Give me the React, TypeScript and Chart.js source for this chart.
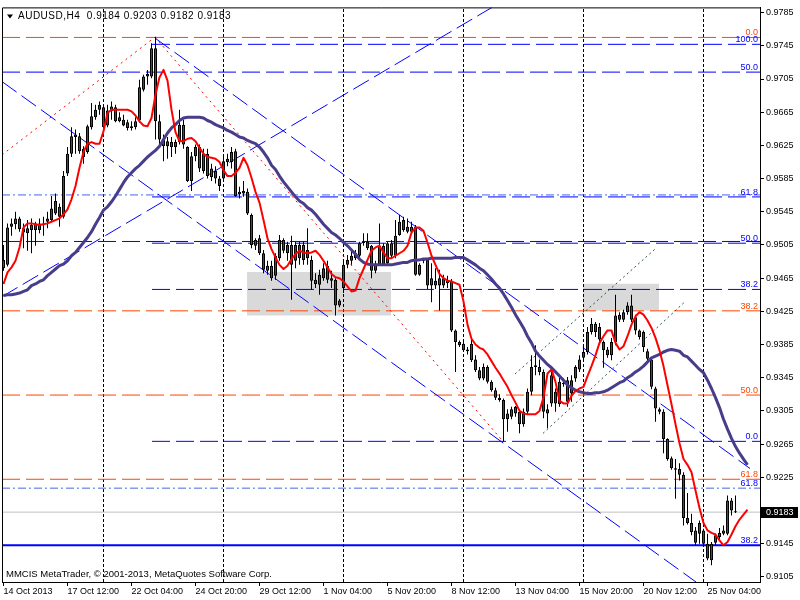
import React, { useEffect, useRef } from "react";
import { Chart, registerables } from "chart.js";

Chart.register(...registerables);

const FONT = '"Liberation Sans", Arial, sans-serif';

// ---- H4 candles (bar 0 = 14 Oct 2013 20:00) ----
const OPEN = [
  0.9477,0.9481,0.9527,0.9530,0.9537,0.9525,0.9519,0.9523,0.9531,0.9523,
  0.9529,0.9533,0.9535,0.9543,0.9551,0.9539,0.9591,0.9615,0.9635,0.9636,
  0.9621,0.9617,0.9647,0.9659,0.9668,0.9671,0.9649,0.9666,0.9671,0.9659,
  0.9656,0.9653,0.9646,0.9647,0.9655,0.9692,0.9708,0.9708,0.9742,0.9654,
  0.9624,0.9630,0.9629,0.9629,0.9629,0.9650,0.9623,0.9582,0.9612,0.9623,
  0.9615,0.9615,0.9587,0.9594,0.9576,0.9585,0.9605,0.9605,0.9618,0.9569,
  0.9567,0.9569,0.9541,0.9511,0.9513,0.9495,0.9480,0.9480,0.9468,0.9489,
  0.9511,0.9495,0.9505,0.9486,0.9505,0.9487,0.9499,0.9487,0.9463,0.9457,
  0.9465,0.9480,0.9465,0.9463,0.9432,0.9453,0.9481,0.9486,0.9489,0.9492,
  0.9507,0.9509,0.9504,0.9474,0.9481,0.9504,0.9483,0.9507,0.9492,0.9517,
  0.9523,0.9527,0.9521,0.9527,0.9469,0.9487,0.9487,0.9465,0.9462,0.9456,
  0.9456,0.9463,0.9462,0.9402,0.9384,0.9386,0.9379,0.9386,0.9367,0.9354,
  0.9344,0.9358,0.9340,0.9330,0.9321,0.9318,0.9295,0.9298,0.9302,0.9304,
  0.9289,0.9304,0.9328,0.9358,0.9352,0.9352,0.9307,0.9314,0.9328,0.9313,
  0.9337,0.9342,0.9326,0.9344,0.9355,0.9369,0.9376,0.9400,0.9410,0.9406,
  0.9388,0.9379,0.9372,0.9388,0.9421,0.9415,0.9424,0.9432,0.9418,0.9402,
  0.9400,0.9377,0.9367,0.9332,0.9307,0.9304,0.9271,0.9248,0.9236,0.9235,
  0.9228,0.9176,0.9170,0.9161,0.9157,0.9161,0.9145,0.9125,0.9146,0.9153,
  0.9157,0.9157,0.9197,0.9184,
];
const HIGH = [
  0.9505,0.9531,0.9537,0.9545,0.9539,0.9531,0.9535,0.9537,0.9533,0.9537,
  0.9539,0.9545,0.9564,0.9567,0.9555,0.9594,0.9623,0.9647,0.9644,0.9640,
  0.9624,0.9650,0.9676,0.9674,0.9678,0.9673,0.9674,0.9678,0.9674,0.9665,
  0.9662,0.9656,0.9654,0.9659,0.9704,0.9710,0.9716,0.9748,0.9756,0.9662,
  0.9638,0.9635,0.9635,0.9632,0.9668,0.9656,0.9624,0.9617,0.9626,0.9626,
  0.9621,0.9621,0.9603,0.9600,0.9588,0.9611,0.9615,0.9623,0.9621,0.9575,
  0.9582,0.9573,0.9543,0.9513,0.9517,0.9499,0.9486,0.9486,0.9495,0.9517,
  0.9513,0.9509,0.9516,0.9509,0.9509,0.9509,0.9525,0.9492,0.9471,0.9475,
  0.9483,0.9486,0.9474,0.9465,0.9440,0.9486,0.9493,0.9498,0.9499,0.9509,
  0.9519,0.9519,0.9505,0.9486,0.9531,0.9507,0.9509,0.9511,0.9535,0.9541,
  0.9539,0.9537,0.9533,0.9529,0.9483,0.9489,0.9489,0.9483,0.9477,0.9475,
  0.9469,0.9468,0.9464,0.9403,0.9390,0.9388,0.9382,0.9391,0.9372,0.9358,
  0.9362,0.9360,0.9342,0.9333,0.9325,0.9320,0.9307,0.9310,0.9311,0.9307,
  0.9308,0.9332,0.9372,0.9384,0.9367,0.9355,0.9313,0.9355,0.9332,0.9346,
  0.9344,0.9346,0.9348,0.9360,0.9372,0.9384,0.9406,0.9417,0.9412,0.9411,
  0.9390,0.9382,0.9393,0.9445,0.9424,0.9427,0.9436,0.9445,0.9421,0.9403,
  0.9402,0.9380,0.9370,0.9334,0.9309,0.9307,0.9272,0.9250,0.9247,0.9242,
  0.9231,0.9206,0.9181,0.9165,0.9173,0.9163,0.9157,0.9147,0.9157,0.9164,
  0.9167,0.9203,0.9200,0.9203,
];
const LOW = [
  0.9474,0.9479,0.9516,0.9524,0.9521,0.9501,0.9498,0.9495,0.9504,0.9519,
  0.9516,0.9525,0.9533,0.9541,0.9527,0.9537,0.9588,0.9611,0.9615,0.9615,
  0.9603,0.9615,0.9644,0.9656,0.9662,0.9641,0.9647,0.9656,0.9653,0.9653,
  0.9648,0.9643,0.9643,0.9644,0.9653,0.9690,0.9698,0.9706,0.9632,0.9623,
  0.9606,0.9609,0.9611,0.9615,0.9626,0.9621,0.9581,0.9570,0.9606,0.9593,
  0.9591,0.9585,0.9582,0.9579,0.9570,0.9581,0.9600,0.9597,0.9563,0.9561,
  0.9563,0.9541,0.9501,0.9499,0.9493,0.9471,0.9469,0.9462,0.9463,0.9486,
  0.9495,0.9486,0.9439,0.9477,0.9481,0.9481,0.9481,0.9451,0.9453,0.9445,
  0.9462,0.9459,0.9453,0.9420,0.9430,0.9447,0.9477,0.9481,0.9487,0.9489,
  0.9504,0.9499,0.9465,0.9471,0.9480,0.9480,0.9481,0.9489,0.9489,0.9516,
  0.9521,0.9519,0.9519,0.9468,0.9468,0.9483,0.9452,0.9436,0.9452,0.9426,
  0.9453,0.9453,0.9400,0.9352,0.9382,0.9376,0.9373,0.9364,0.9352,0.9342,
  0.9342,0.9338,0.9328,0.9318,0.9316,0.9268,0.9280,0.9295,0.9298,0.9278,
  0.9286,0.9301,0.9324,0.9348,0.9348,0.9296,0.9284,0.9310,0.9304,0.9310,
  0.9334,0.9310,0.9316,0.9340,0.9352,0.9364,0.9373,0.9397,0.9394,0.9388,
  0.9357,0.9369,0.9366,0.9384,0.9412,0.9412,0.9421,0.9412,0.9397,0.9391,
  0.9376,0.9362,0.9331,0.9292,0.9301,0.9254,0.9245,0.9234,0.9199,0.9221,
  0.9167,0.9168,0.9155,0.9143,0.9145,0.9141,0.9125,0.9119,0.9143,0.9149,
  0.9155,0.9155,0.9179,0.9182,
];
const CLOSE = [
  0.9487,0.9526,0.9531,0.9537,0.9524,0.9520,0.9525,0.9529,0.9523,0.9531,
  0.9531,0.9537,0.9549,0.9558,0.9539,0.9588,0.9615,0.9636,0.9638,0.9618,
  0.9611,0.9648,0.9660,0.9668,0.9674,0.9647,0.9667,0.9672,0.9654,0.9654,
  0.9649,0.9646,0.9648,0.9654,0.9695,0.9708,0.9711,0.9742,0.9654,0.9632,
  0.9632,0.9624,0.9623,0.9623,0.9650,0.9626,0.9582,0.9612,0.9623,0.9597,
  0.9594,0.9588,0.9597,0.9585,0.9585,0.9606,0.9609,0.9617,0.9564,0.9566,
  0.9570,0.9543,0.9505,0.9504,0.9495,0.9475,0.9474,0.9465,0.9492,0.9511,
  0.9498,0.9505,0.9481,0.9505,0.9489,0.9505,0.9489,0.9462,0.9458,0.9469,
  0.9477,0.9463,0.9462,0.9432,0.9438,0.9481,0.9487,0.9492,0.9495,0.9507,
  0.9509,0.9501,0.9474,0.9481,0.9504,0.9481,0.9507,0.9492,0.9516,0.9533,
  0.9535,0.9521,0.9527,0.9469,0.9481,0.9486,0.9456,0.9456,0.9456,0.9465,
  0.9465,0.9459,0.9402,0.9388,0.9388,0.9378,0.9377,0.9366,0.9354,0.9344,
  0.9358,0.9340,0.9330,0.9321,0.9318,0.9295,0.9302,0.9307,0.9310,0.9289,
  0.9304,0.9328,0.9358,0.9360,0.9358,0.9304,0.9302,0.9348,0.9314,0.9340,
  0.9339,0.9316,0.9342,0.9358,0.9367,0.9376,0.9400,0.9410,0.9400,0.9391,
  0.9378,0.9372,0.9388,0.9420,0.9415,0.9424,0.9432,0.9415,0.9402,0.9394,
  0.9382,0.9368,0.9334,0.9308,0.9304,0.9271,0.9247,0.9236,0.9234,0.9228,
  0.9176,0.9170,0.9159,0.9146,0.9170,0.9145,0.9127,0.9145,0.9155,0.9158,
  0.9161,0.9197,0.9185,0.9183,
];

// ---- moving averages (plotted with a forward shift, so they run past the last bar) ----
const MA_FAST = [
  0.9458,0.9472,0.9478,0.9486,0.9502,0.9526,0.9531,0.9531,0.9530,0.9529,
  0.9530,0.9531,0.9533,0.9535,0.9537,0.9542,0.9548,0.9560,0.9576,0.9598,
  0.9617,0.9627,0.9629,0.9627,0.9627,0.9642,0.9664,0.9668,0.9668,0.9668,
  0.9668,0.9668,0.9666,0.9661,0.9654,0.9649,0.9648,0.9658,0.9686,0.9707,
  0.9716,0.9703,0.9668,0.9641,0.9630,0.9630,0.9633,0.9634,0.9630,0.9622,
  0.9615,0.9611,0.9610,0.9609,0.9605,0.9595,0.9588,0.9588,0.9592,0.9598,
  0.9610,0.9601,0.9586,0.9569,0.9556,0.9535,0.9513,0.9500,0.9490,0.9481,
  0.9476,0.9480,0.9488,0.9494,0.9498,0.9496,0.9495,0.9496,0.9498,0.9493,
  0.9486,0.9478,0.9470,0.9466,0.9465,0.9461,0.9455,0.9449,0.9450,0.9465,
  0.9476,0.9487,0.9498,0.9502,0.9504,0.9496,0.9489,0.9489,0.9492,0.9495,
  0.9498,0.9504,0.9520,0.9526,0.9526,0.9522,0.9508,0.9492,0.9481,0.9470,
  0.9465,0.9462,0.9461,0.9459,0.9457,0.9437,0.9409,0.9392,0.9385,0.9381,
  0.9379,0.9373,0.9365,0.9357,0.9350,0.9342,0.9334,0.9324,0.9315,0.9305,
  0.9302,0.9301,0.9301,0.9301,0.9305,0.9321,0.9350,0.9355,0.9340,0.9317,
  0.9314,0.9314,0.9323,0.9329,0.9332,0.9334,0.9347,0.9359,0.9372,0.9387,
  0.9395,0.9402,0.9402,0.9387,0.9379,0.9383,0.9395,0.9409,0.9419,0.9424,
  0.9421,0.9414,0.9405,0.9393,0.9378,0.9359,0.9336,0.9313,0.9289,0.9266,
  0.9247,0.9240,0.9231,0.9209,0.9188,0.9170,0.9161,0.9158,0.9156,0.9149,
  0.9143,0.9147,0.9156,0.9166,0.9174,0.9180,0.9186,
];
const MA_SLOW = [
  0.9444,0.9445,0.9445,0.9446,0.9447,0.9449,0.9451,0.9456,0.9458,0.9461,
  0.9463,0.9468,0.9472,0.9476,0.9480,0.9482,0.9486,0.9492,0.9496,0.9502,
  0.9508,0.9514,0.9521,0.9530,0.9538,0.9547,0.9551,0.9557,0.9564,0.9572,
  0.9580,0.9587,0.9592,0.9597,0.9601,0.9606,0.9611,0.9615,0.9619,0.9624,
  0.9632,0.9640,0.9646,0.9650,0.9655,0.9658,0.9659,0.9659,0.9659,0.9659,
  0.9658,0.9655,0.9653,0.9650,0.9648,0.9646,0.9643,0.9641,0.9638,0.9635,
  0.9634,0.9631,0.9629,0.9627,0.9623,0.9617,0.9610,0.9601,0.9596,0.9588,
  0.9581,0.9575,0.9569,0.9563,0.9558,0.9555,0.9550,0.9547,0.9542,0.9536,
  0.9530,0.9525,0.9520,0.9517,0.9513,0.9508,0.9504,0.9499,0.9494,0.9488,
  0.9484,0.9482,0.9481,0.9481,0.9481,0.9481,0.9481,0.9481,0.9482,0.9483,
  0.9484,0.9484,0.9486,0.9487,0.9487,0.9488,0.9488,0.9489,0.9489,0.9489,
  0.9489,0.9489,0.9489,0.9490,0.9490,0.9490,0.9487,0.9484,0.9481,0.9477,
  0.9474,0.9469,0.9464,0.9458,0.9453,0.9446,0.9438,0.9430,0.9421,0.9413,
  0.9405,0.9395,0.9387,0.9377,0.9371,0.9366,0.9361,0.9357,0.9352,0.9347,
  0.9342,0.9336,0.9333,0.9330,0.9328,0.9327,0.9326,0.9326,0.9327,0.9327,
  0.9328,0.9330,0.9333,0.9336,0.9339,0.9341,0.9345,0.9348,0.9352,0.9355,
  0.9359,0.9364,0.9369,0.9371,0.9373,0.9376,0.9378,0.9379,0.9378,0.9377,
  0.9372,0.9370,0.9365,0.9360,0.9355,0.9351,0.9342,0.9332,0.9321,0.9309,
  0.9295,0.9283,0.9272,0.9262,0.9254,0.9247,0.9240,
];

// ---- axes ----
const X_TICK_BARS = [0, 16, 32, 48, 64, 80, 96, 112, 128, 144, 160, 176];
const X_TICK_LABELS = [
  "14 Oct 2013", "17 Oct 12:00", "22 Oct 04:00", "24 Oct 20:00", "29 Oct 12:00", "1 Nov 04:00",
  "5 Nov 20:00", "8 Nov 12:00", "13 Nov 04:00", "15 Nov 20:00", "20 Nov 12:00", "25 Nov 04:00",
];
const Y_TICKS = [
  0.9785, 0.9745, 0.9705, 0.9665, 0.9625, 0.9585, 0.9545, 0.9505, 0.9465,
  0.9425, 0.9385, 0.9345, 0.9305, 0.9265, 0.9225, 0.9185, 0.9145, 0.9105,
];
const X_MIN = -0.375;
const X_MAX = 189.125;
const Y_MIN = 0.90988;
const Y_MAX = 0.97913;
const WEEK_SEPARATOR_BARS = [25, 55, 85, 115, 145, 175];

// ---- objects (bar index, price) ----
const ORANGE_FIB_PRICES = [0.97551, 0.94256, 0.93241, 0.92226];
const ORANGE_FIB_LABELS = ["0.0", "38.2", "50.0", "61.8"];
const BLUE_FIB_START = 37.125;
const BLUE_FIB_PRICES = [0.97468, 0.95629, 0.95071, 0.94514, 0.92683];
const BLUE_FIB_LABELS = ["100.0", "61.8", "50.0", "38.2", "0.0"];
const BLUE_RAY_PRICES = [0.97133, 0.95092];
const BLUE_RAY_LABELS = ["50.0", ""];
const DASHDOT_PRICES = [0.95653, 0.92119];
const DASHDOT_LABELS = ["", "61.8"];
const SUPPORT_PRICE = 0.9143;
const SUPPORT_LABEL = "38.2";
const BLUE_TRENDS = [
  [-0.375, 0.97019, 173.125, 0.90988],
  [37.875, 0.97543, 186.625, 0.92356],
  [-0.375, 0.94427, 122.125, 0.97913],
];
const RED_TRENDS = [
  [-0.375, 0.96136, 37.875, 0.97555],
  [37.875, 0.97555, 124.875, 0.92683],
];
const GRAY_TRENDS = [
  [127.875, 0.93495, 162.875, 0.95],
  [134.875, 0.92779, 170.125, 0.94355],
];
const ZONES = [
  [60.875, 96.875, 0.94725, 0.942],
  [144.875, 163.875, 0.94582, 0.94259],
];

const ORANGE = "#FF4500";
const BLUE = "#0000FF";
const ROYAL = "#4169E1";

export default function App() {
  const canvasRef = useRef<HTMLCanvasElement | null>(null);

  useEffect(() => {
    document.body.style.margin = "0";
    const canvas = canvasRef.current;
    if (!canvas) return;

    const last = OPEN.length - 1;
    const lastClose = CLOSE[last];
    const title = `AUDUSD,H4  ${OPEN[last].toFixed(4)} ${HIGH[last].toFixed(4)} ${LOW[last].toFixed(4)} ${CLOSE[last].toFixed(4)}`;

    const seg = (x1: number, y1: number, x2: number, y2: number) => [
      { x: x1, y: y1 },
      { x: x2, y: y2 },
    ];
    const line = (data: any[], color: string, width: number, dash: number[], order: number, extra: any = {}) => ({
      type: "line",
      data,
      borderColor: color,
      borderWidth: width,
      borderDash: dash,
      pointRadius: 0,
      pointHoverRadius: 0,
      tension: 0,
      fill: false,
      order,
      ...extra,
    });

    const datasets: any[] = [];
    ZONES.forEach(([x1, x2, top, bottom]) => {
      datasets.push(line(seg(x1, top, x2, top), "rgba(0,0,0,0)", 1, [], 100, { fill: "+1", backgroundColor: "#D9D9D9" }));
      datasets.push(line(seg(x1, bottom, x2, bottom), "rgba(0,0,0,0)", 1, [], 100));
    });
    WEEK_SEPARATOR_BARS.forEach((b) => datasets.push(line(seg(b, Y_MIN, b, Y_MAX), "#000", 1, [3, 2], 90)));

    datasets.push(line(seg(X_MIN, lastClose, X_MAX, lastClose), "#C0C0C0", 1, [], 85));
    ORANGE_FIB_PRICES.forEach((p) => datasets.push(line(seg(X_MIN, p, X_MAX, p), ORANGE, 1, [18, 6], 80)));
    BLUE_FIB_PRICES.forEach((p) => datasets.push(line(seg(BLUE_FIB_START, p, X_MAX, p), BLUE, 1, [18, 6], 80)));
    BLUE_RAY_PRICES.forEach((p) => datasets.push(line(seg(X_MIN, p, X_MAX, p), BLUE, 1, [18, 6], 80)));
    DASHDOT_PRICES.forEach((p) => datasets.push(line(seg(X_MIN, p, X_MAX, p), ROYAL, 1, [8, 3, 2, 3], 80)));
    datasets.push(line(seg(X_MIN, SUPPORT_PRICE, X_MAX, SUPPORT_PRICE), BLUE, 2, [], 80));
    BLUE_TRENDS.forEach(([a, b, c, d]) => datasets.push(line(seg(a, b, c, d), BLUE, 1, [18, 6], 78)));
    RED_TRENDS.forEach(([a, b, c, d]) => datasets.push(line(seg(a, b, c, d), "#FF0000", 1, [2, 4], 78)));
    GRAY_TRENDS.forEach(([a, b, c, d]) => datasets.push(line(seg(a, b, c, d), "#2F4F4F", 1, [2, 3], 78)));

    const idx = OPEN.map((_, i) => i);
    datasets.push({
      type: "bar",
      data: idx.map((i) => ({ x: i, y: [LOW[i], HIGH[i]] })),
      backgroundColor: "#000000",
      borderWidth: 0,
      barThickness: 1,
      inflateAmount: 0,
      grouped: false,
      order: 50,
    });
    datasets.push({
      type: "bar",
      data: idx.map((i) => ({ x: i, y: [OPEN[i], CLOSE[i]] })),
      backgroundColor: idx.map((i) => (CLOSE[i] >= OPEN[i] ? "#008000" : "#FF0000")),
      borderColor: "#000000",
      borderWidth: 1,
      borderSkipped: false,
      barThickness: 3,
      inflateAmount: 0,
      minBarLength: 1,
      grouped: false,
      order: 40,
    });
    datasets.push(line(MA_SLOW.map((v, i) => ({ x: i, y: v })), "#483D8B", 3, [], 20, { borderJoinStyle: "round" }));
    datasets.push(line(MA_FAST.map((v, i) => ({ x: i, y: v })), "#FF0000", 2, [], 10, { borderJoinStyle: "round" }));

    const levelTexts: { price: number; text: string; color: string }[] = [];
    ORANGE_FIB_PRICES.forEach((p, i) => levelTexts.push({ price: p, text: ORANGE_FIB_LABELS[i], color: ORANGE }));
    BLUE_FIB_PRICES.forEach((p, i) => levelTexts.push({ price: p, text: BLUE_FIB_LABELS[i], color: BLUE }));
    BLUE_RAY_PRICES.forEach((p, i) => levelTexts.push({ price: p, text: BLUE_RAY_LABELS[i], color: BLUE }));
    DASHDOT_PRICES.forEach((p, i) => levelTexts.push({ price: p, text: DASHDOT_LABELS[i], color: BLUE }));
    levelTexts.push({ price: SUPPORT_PRICE, text: SUPPORT_LABEL, color: BLUE });

    const overlay = {
      id: "mtOverlay",
      afterDatasetsDraw(chart: any) {
        const { ctx, chartArea } = chart;
        const ys = chart.scales.y;
        ctx.save();
        ctx.font = `9px ${FONT}`;
        ctx.textAlign = "right";
        ctx.textBaseline = "alphabetic";
        levelTexts.forEach((l) => {
          if (!l.text) return;
          ctx.fillStyle = l.color;
          ctx.fillText(l.text, chartArea.right - 2, ys.getPixelForValue(l.price) - 2);
        });
        ctx.strokeStyle = "#000";
        ctx.lineWidth = 1;
        ctx.beginPath();
        ctx.moveTo(chartArea.left + 0.5, chartArea.bottom);
        ctx.lineTo(chartArea.left + 0.5, chartArea.top + 0.5);
        ctx.lineTo(chartArea.right, chartArea.top + 0.5);
        ctx.stroke();
        ctx.fillStyle = "#000";
        ctx.beginPath();
        ctx.moveTo(chartArea.left + 5, chartArea.top + 7);
        ctx.lineTo(chartArea.left + 11, chartArea.top + 7);
        ctx.lineTo(chartArea.left + 8, chartArea.top + 11);
        ctx.closePath();
        ctx.fill();
        ctx.textAlign = "left";
        ctx.font = `10px ${FONT}`;
        (ctx as any).letterSpacing = "0.5px";
        ctx.fillText(title, chartArea.left + 16, chartArea.top + 12);
        (ctx as any).letterSpacing = "0px";
        ctx.font = `9.5px ${FONT}`;
        ctx.fillText("MMCIS MetaTrader, \u00A9 2001-2013, MetaQuotes Software Corp.", chartArea.left + 4, chartArea.bottom - 5);
        ctx.restore();
      },
      afterDraw(chart: any) {
        const { ctx, chartArea } = chart;
        const py = chart.scales.y.getPixelForValue(lastClose);
        ctx.save();
        ctx.fillStyle = "#000";
        ctx.fillRect(chartArea.right + 1, Math.floor(py) - 5, 37, 11);
        ctx.fillStyle = "#FFF";
        ctx.font = `9px ${FONT}`;
        ctx.textAlign = "left";
        ctx.textBaseline = "middle";
        ctx.fillText(lastClose.toFixed(4), chartArea.right + 6, py + 0.5);
        ctx.restore();
      },
    };

    const chart = new Chart(canvas, {
      type: "bar",
      data: { datasets },
      options: {
        animation: false,
        responsive: false,
        devicePixelRatio: 1,
        events: [],
        layout: { padding: { left: 2, top: 2, right: 0, bottom: 0 } },
        plugins: { legend: { display: false }, title: { display: false }, tooltip: { enabled: false } },
        scales: {
          x: {
            type: "linear",
            position: "bottom",
            min: X_MIN,
            max: X_MAX,
            offset: false,
            afterBuildTicks: (s: any) => {
              s.ticks = X_TICK_BARS.map((v) => ({ value: v }));
            },
            afterFit: (s: any) => {
              s.height = 18;
            },
            ticks: {
              autoSkip: false,
              maxRotation: 0,
              minRotation: 0,
              align: "start",
              padding: 0,
              color: "#000",
              font: { family: FONT, size: 9 },
              callback: (_v: any, i: number) => X_TICK_LABELS[i],
            },
            grid: { offset: false, drawOnChartArea: false, drawTicks: true, tickLength: 4, color: "#000" },
            border: { display: true, color: "#000", width: 1 },
          },
          y: {
            type: "linear",
            position: "right",
            min: Y_MIN,
            max: Y_MAX,
            beginAtZero: false,
            afterBuildTicks: (s: any) => {
              s.ticks = Y_TICKS.map((v) => ({ value: v }));
            },
            afterFit: (s: any) => {
              s.width = 40;
            },
            ticks: {
              autoSkip: false,
              padding: 2,
              color: "#000",
              font: { family: FONT, size: 9 },
              callback: (v: any) => Number(v).toFixed(4),
            },
            grid: { drawOnChartArea: false, drawTicks: true, tickLength: 4, color: "#000" },
            border: { display: true, color: "#000", width: 1 },
          },
        },
      } as any,
      plugins: [overlay],
    } as any);

    return () => chart.destroy();
  }, []);

  return (
    <div style={{ width: 800, height: 600, background: "#fff" }}>
      <canvas ref={canvasRef} width={800} height={600} style={{ display: "block" }} />
    </div>
  );
}
